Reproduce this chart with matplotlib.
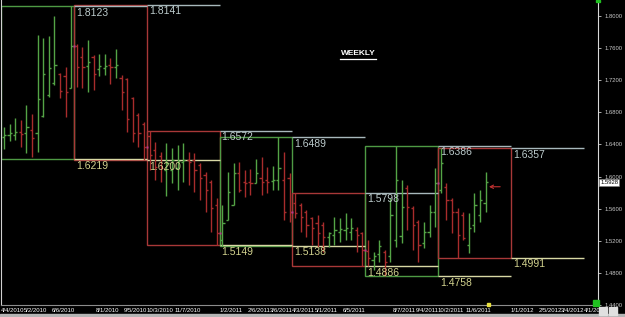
import matplotlib
matplotlib.use('Agg')
import matplotlib.pyplot as plt
from matplotlib.patches import Rectangle
from matplotlib.transforms import ScaledTranslation, blended_transform_factory
import numpy as np

plt.rcParams['font.family'] = ['Liberation Sans', 'DejaVu Sans']

# weekly OHLC, one row per quarter (13 weeks)
opens = np.array([
    1.6492, 1.6517, 1.6517, 1.6555, 1.6542, 1.6580, 1.6542, 1.6754, 1.7016, 1.7165, 1.7277, 1.7252, 1.7103,
    1.7626, 1.7489, 1.7377, 1.7489, 1.7340, 1.7352, 1.7389, 1.7364, 1.7227, 1.7215, 1.6978, 1.6766, 1.6654,
    1.6505, 1.6330, 1.6256, 1.6081, 1.6081, 1.6106, 1.6181, 1.6206, 1.6206, 1.6144, 1.6019, 1.5932, 1.5645,
    1.5209, 1.5459, 1.5645, 1.6044, 1.5932, 1.5932, 1.5919, 1.5982, 1.5957, 1.5944, 1.5957, 1.5957, 1.5982,
    1.5670, 1.5645, 1.5558, 1.5483, 1.5421, 1.5396, 1.5247, 1.5272, 1.5309, 1.5334, 1.5309, 1.5334, 1.5297,
    1.5072, 1.4960, 1.5035, 1.5060, 1.5010, 1.5209, 1.5259, 1.5857, 1.5608, 1.5434, 1.5172, 1.5309, 1.5558,
    1.5832, 1.5870, 1.5708, 1.5558, 1.5521, 1.5147, 1.5396, 1.5521, 1.5670])
highs = np.array([
    1.6617, 1.6654, 1.6729, 1.6704, 1.6891, 1.6779, 1.7763, 1.7726, 1.7751, 1.8000, 1.7290, 1.7364, 1.8123,
    1.7651, 1.7614, 1.7701, 1.7514, 1.7526, 1.7526, 1.7477, 1.7589, 1.7265, 1.7227, 1.6991, 1.6791, 1.6679,
    1.6567, 1.6430, 1.6306, 1.6418, 1.6355, 1.6393, 1.6418, 1.6306, 1.6293, 1.6169, 1.6056, 1.5957, 1.5733,
    1.5645, 1.6056, 1.6169, 1.6181, 1.6081, 1.6094, 1.6218, 1.6243, 1.6119, 1.6131, 1.6489, 1.6306, 1.6044,
    1.5798, 1.5670, 1.5583, 1.5496, 1.5521, 1.5434, 1.5309, 1.5496, 1.5483, 1.5546, 1.5483, 1.5371, 1.5309,
    1.5209, 1.5060, 1.5209, 1.5085, 1.5733, 1.6386, 1.5957, 1.5895, 1.5633, 1.5459, 1.5434, 1.5645, 1.6106,
    1.6357, 1.5919, 1.5733, 1.5608, 1.5558, 1.5546, 1.5795, 1.5832, 1.6056])
lows = np.array([
    1.6343, 1.6443, 1.6455, 1.6368, 1.6293, 1.6243, 1.6306, 1.6742, 1.6991, 1.7140, 1.6978, 1.6742, 1.7103,
    1.7115, 1.7103, 1.7053, 1.7078, 1.7252, 1.7265, 1.7153, 1.7227, 1.6829, 1.6555, 1.6430, 1.6368, 1.6200,
    1.6081, 1.5957, 1.5932, 1.5757, 1.5919, 1.5832, 1.5932, 1.5895, 1.5807, 1.5708, 1.5558, 1.5309, 1.5149,
    1.5138, 1.5459, 1.5645, 1.5807, 1.5745, 1.5770, 1.5919, 1.5770, 1.5795, 1.5832, 1.5832, 1.5459, 1.5434,
    1.5483, 1.5309, 1.5247, 1.5147, 1.5122, 1.5060, 1.5122, 1.5147, 1.5184, 1.5209, 1.5209, 1.5060, 1.4886,
    1.4885, 1.4836, 1.4935, 1.4758, 1.4935, 1.5122, 1.5172, 1.5334, 1.5085, 1.4935, 1.5110, 1.5247, 1.5371,
    1.5795, 1.5459, 1.5297, 1.4991, 1.5209, 1.5047, 1.5309, 1.5434, 1.5558])
closes = np.array([
    1.6517, 1.6542, 1.6555, 1.6530, 1.6617, 1.6480, 1.6966, 1.7277, 1.7352, 1.7389, 1.7065, 1.7053, 1.7626,
    1.7364, 1.7364, 1.7427, 1.7277, 1.7377, 1.7377, 1.7364, 1.7389, 1.7053, 1.6717, 1.6542, 1.6542, 1.6368,
    1.6268, 1.6119, 1.6106, 1.6169, 1.6206, 1.6193, 1.6206, 1.6181, 1.6081, 1.5982, 1.5832, 1.5608, 1.5297,
    1.5421, 1.5807, 1.6044, 1.5832, 1.5919, 1.5919, 1.6044, 1.5932, 1.5932, 1.5957, 1.6106, 1.5558, 1.5558,
    1.5546, 1.5496, 1.5396, 1.5359, 1.5297, 1.5247, 1.5297, 1.5334, 1.5346, 1.5359, 1.5359, 1.5272, 1.5085,
    1.4985, 1.5010, 1.5135, 1.4935, 1.5521, 1.5957, 1.5620, 1.5620, 1.5396, 1.5147, 1.5309, 1.5558, 1.5919,
    1.6169, 1.5708, 1.5558, 1.5272, 1.5234, 1.5359, 1.5645, 1.5708, 1.5928])

# quarterly range boxes
box_high = [1.8123, 1.8141, 1.6572, 1.6489, 1.5798, 1.6386, 1.6357]
box_low = [1.6219, 1.6200, 1.5149, 1.5138, 1.4886, 1.4758, 1.4991]
box_color = ['#4e9a44', '#a83838', '#a83838', '#4e9a44', '#a83838', '#4e9a44', '#a83838']

date_idx = [0, 4, 9, 17, 22, 26, 31, 39, 44, 48, 52, 56, 61, 70, 74, 78, 83, 91, 96, 100, 104]
date_labels = ['4/4/2010', '5/2/2010', '6/6/2010', '8/1/2010', '9/5/2010', '10/3/2010', '11/7/2010',
               '1/2/2011', '2/6/2011', '3/6/2011', '4/3/2011', '5/1/2011', '6/5/2011', '8/7/2011',
               '9/4/2011', '10/2/2011', '11/6/2011', '1/1/2012', '2/5/2012', '3/4/2012', '4/1/2012']
last_price = 1.5928
QLEN = 13

fig = plt.figure(figsize=(6.25, 3.17), dpi=100, facecolor='black')
ax = fig.add_axes([1/625, 12/317, 597/625, 305/317], facecolor='black')

idx = np.arange(len(opens))
cols = np.where(closes > opens, '#54a446', '#a82c2c')

# boxes
for q in range(len(box_high)):
    x0 = QLEN * q - 0.5
    ax.add_patch(Rectangle((x0, box_low[q]), QLEN, box_high[q] - box_low[q],
                           fill=False, ec=box_color[q], lw=1, zorder=1))

# previous quarter high / low lines with labels
for q in range(1, len(box_high) + 1):
    x0 = QLEN * q - 0.5
    hi, lo = box_high[q - 1], box_low[q - 1]
    ax.hlines(hi, x0, x0 + QLEN, colors='#a8b8bc', lw=1, zorder=2)
    ax.hlines(lo, x0, x0 + QLEN, colors='#d8d8a4', lw=1, zorder=2)
    ax.annotate(f'{hi:.4f}', (x0, hi), xytext=(1.5, -1.2), textcoords='offset points',
                ha='left', va='top', fontsize=7.5, color='#bccbcc', zorder=4)
    ax.annotate(f'{lo:.4f}', (x0, lo), xytext=(1.5, -1.2), textcoords='offset points',
                ha='left', va='top', fontsize=7.5, color='#d2d28e', zorder=4)

# OHLC bars
ax.vlines(idx, lows, highs, colors=cols, lw=1, zorder=3)
ax.hlines(opens, idx - 0.4, idx, colors=cols, lw=1, zorder=3)
ax.hlines(closes, idx, idx + 0.4, colors=cols, lw=1, zorder=3)

# quarter close markers
qb = np.arange(1, len(opens) // QLEN + 1)
ax.plot(QLEN * qb - 0.5, closes[QLEN * qb - 1], 's', ms=2, color='#b83890', mec='none', zorder=4)

# current bar arrow
ax.annotate('', xy=(idx[-1] + 0.6, 1.5873), xytext=(idx[-1] + 2.6, 1.5873),
            arrowprops=dict(arrowstyle='->', color='#c03030', lw=0.8,
                            shrinkA=0, shrinkB=0, mutation_scale=6))

# title
ax.text(0.598, 0.826, 'WEEKLY', transform=ax.transAxes, ha='center', va='center',
        fontsize=6, fontweight='bold', color='white')
ax.plot([0.568, 0.628], [0.808, 0.808], transform=ax.transAxes, color='white', lw=0.9)

ax.set_xlim(-0.54, 106.07)
ax.set_ylim(1.4400, 1.8199)

# right price axis
ax.yaxis.tick_right()
yt = np.arange(1.44, 1.8001, 0.04)
ax.set_yticks(yt)
ax.set_yticklabels([f'{v:.4f}' for v in yt])
ax.tick_params(axis='y', colors='#c8c8c8', labelcolor='#c8c8c8', length=2.5, width=0.6,
               labelsize=4.2, pad=2.5)
ax.text(1.004, last_price, f'{last_price:.4f}',
        transform=blended_transform_factory(ax.transAxes, ax.transData),
        fontsize=4.2, color='black', ha='left', va='center', clip_on=False,
        bbox=dict(fc='white', ec='#808080', lw=0.4, pad=0.8))

# date axis
ax.set_xticks(date_idx)
ax.set_xticklabels(date_labels)
ax.tick_params(axis='x', length=0, labelsize=4.3, labelcolor='white', pad=2)
shift = ScaledTranslation(-3 / 100, 0, fig.dpi_scale_trans)
for lab in ax.get_xticklabels():
    lab.set_ha('left')
    lab.set_transform(lab.get_transform() + shift)

ax.spines['top'].set_visible(False)
ax.spines['left'].set_color('#d0d0d0')
ax.spines['right'].set_color('#d8d8d8')
ax.spines['bottom'].set_color('#8c8c8c')


def px_rect(x, y, w, h, color):
    fig.patches.append(Rectangle((x / 625, (317 - y - h) / 317), w / 625, h / 317,
                                 transform=fig.transFigure, color=color, zorder=5))


px_rect(0, 314, 625, 3, '#b4b4b4')
px_rect(593, 300, 6, 6, '#20c020')
px_rect(599, 307, 8, 8, '#e0e0e0')
px_rect(609, 307, 8, 8, '#e0e0e0')
px_rect(487, 303, 3, 3, '#e8e040')
px_rect(596, 0, 4, 2, '#20c020')

fig.savefig('out.png', dpi=100, facecolor='black')
